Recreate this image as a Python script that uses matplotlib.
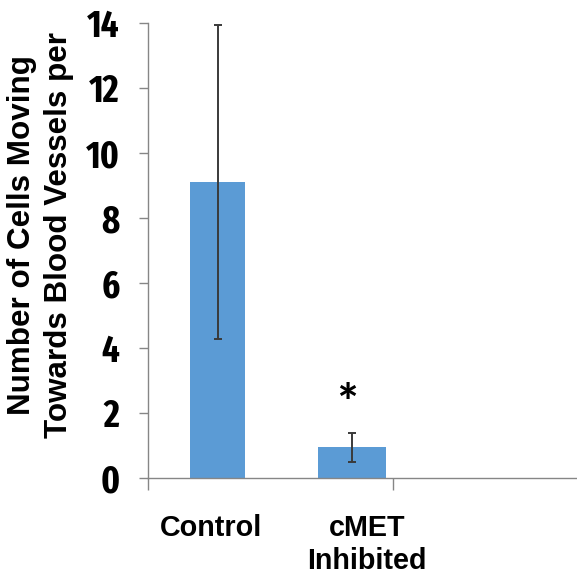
import matplotlib
matplotlib.use("Agg")
import matplotlib.pyplot as plt
from matplotlib import font_manager

categories = ["Control", "cMET\nInhibited"]
values = [9.1, 0.95]
errors = [4.83, 0.45]
yticks = [0, 2, 4, 6, 8, 10, 12, 14]
ylabel = "Number of Cells Moving\nTowards Blood Vessels per"
sig_marker = "*"

names = {f.name for f in font_manager.fontManager.ttflist}
def pick(*cands):
    for c in cands:
        if c in names:
            return c
    return "DejaVu Sans"
narrow = pick("Fira Sans Extra Condensed", "Barlow Condensed", "PT Sans Narrow")
sans = pick("Liberation Sans", "Arimo")
calib = pick("Carlito", "Liberation Sans")

fig = plt.figure(figsize=(5.77, 5.74), dpi=100)
ax = fig.add_axes([148/577, 96/574, 429/577, 455/574])

bar_x = [0, 1]
widths = [0.41, 0.51]
ax.bar(bar_x, values, width=widths, color="#5B9BD5", zorder=2)
ax.errorbar(bar_x, values, yerr=errors, fmt="none", ecolor="#3a3a3a",
            elinewidth=1.4, capsize=2.6, capthick=1.4, zorder=3)

ax.set_xlim(-0.522, 2.679)
ax.set_ylim(0, 14)
ax.set_yticks(yticks)
ax.set_yticklabels([str(t) for t in yticks], fontfamily=narrow,
                   fontweight="bold", fontsize=27)
ax.tick_params(axis="y", length=6.5, width=1, color="#868686", pad=14)

label_pos = [-0.052, 1.112]
ax.set_xticks(label_pos)
ax.set_xticklabels(categories, fontfamily=sans, fontweight="bold",
                   fontsize=20.7, linespacing=1.2)
ax.tick_params(axis="x", which="major", length=0, pad=26)
ax.set_xticks([-0.522, 1.306], minor=True)
ax.tick_params(axis="x", which="minor", length=8.6, width=1, color="#868686")

for s in ["top", "right"]:
    ax.spines[s].set_visible(False)
for s in ["left", "bottom"]:
    ax.spines[s].set_color("#868686")
    ax.spines[s].set_linewidth(1)

ax.text(0.963, 2.22, sig_marker, ha="center", va="center",
        fontfamily=calib, fontweight="bold", fontsize=38)

fig.text(7/577, 1 - 235/574, ylabel, rotation=90, ha="left", va="center",
         fontfamily=sans, fontweight="bold", fontsize=22.6,
         linespacing=1.32, multialignment="center")

fig.savefig("out.png", dpi=100)
